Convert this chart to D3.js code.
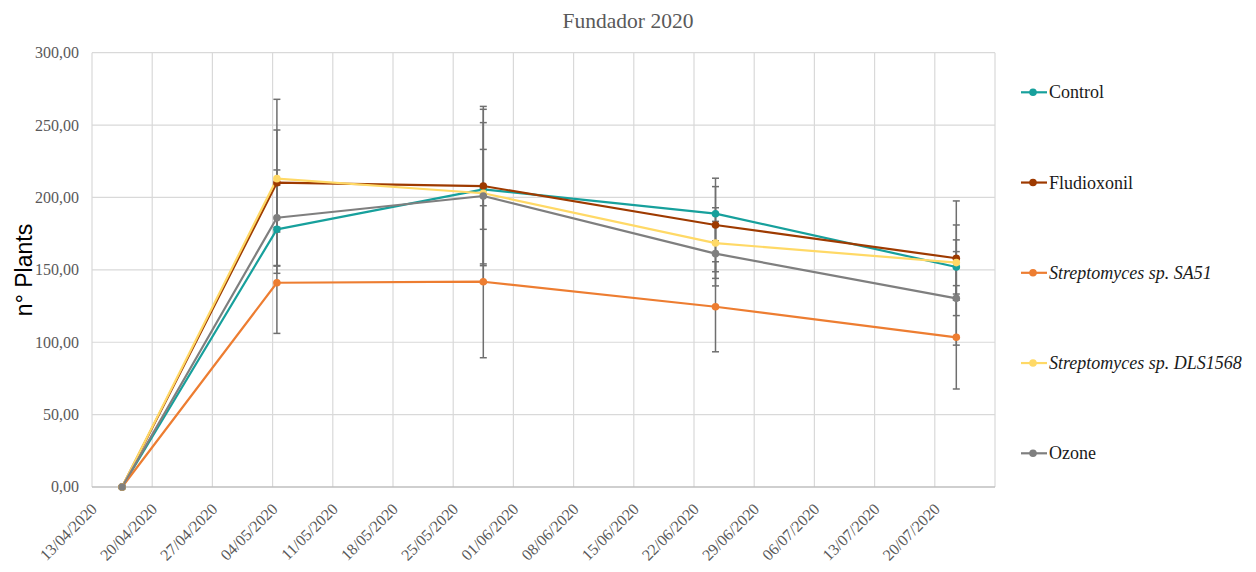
<!DOCTYPE html>
<html>
<head>
<meta charset="utf-8">
<script src="https://cdn.jsdelivr.net/npm/d3@7"></script>
<style>
  html, body { margin: 0; padding: 0; background: #ffffff; }
  svg { display: block; }
</style>
</head>
<body>
<svg id="chart" width="1256" height="572"></svg>
<script>
// ---------- data ----------
const sampleDates = ["2020-04-16", "2020-05-04", "2020-05-28", "2020-06-24", "2020-07-22"];
const seriesNames = ["Control", "Fludioxonil", "Streptomyces sp. SA51", "Streptomyces sp. DLS1568", "Ozone"];
const italicSeries = ["Streptomyces sp. SA51", "Streptomyces sp. DLS1568"];
const seriesColors = ["#17A09C", "#9E3A00", "#ED7D31", "#FFD966", "#7F7F7F"];

const controlValues   = [0, 178.0, 205.6, 188.8, 152.0];
const fludioValues    = [0, 210.2, 207.9, 181.0, 158.0];
const sa51Values      = [0, 141.1, 141.8, 124.5, 103.4];
const dls1568Values   = [0, 213.0, 202.9, 168.5, 155.0];
const ozoneValues     = [0, 186.0, 201.0, 161.2, 130.3];

const controlErr = [0, 30.4, 27.6, 18.7, 18.7];
const fludioErr  = [0, 57.6, 55.0, 32.3, 39.6];
const sa51Err    = [0, 35.0, 52.5, 31.1, 35.7];
const dls1568Err = [0, 33.6, 48.8, 24.4, 26.0];
const ozoneErr   = [0, 33.0, 59.9, 22.3, 32.3];

const yTicks = [0, 50, 100, 150, 200, 250, 300];
const xTickStart = "2020-04-13";
const xTickEnd = "2020-07-27";
const chartTitle = "Fundador 2020";
const yAxisTitle = "n° Plants";

// ---------- build ----------
const parse = d3.utcParse("%Y-%m-%d");
const fmtTick = d3.utcFormat("%d/%m/%Y");
const yFmt = v => d3.format(".2f")(v).replace(".", ",");

const allValues = [controlValues, fludioValues, sa51Values, dls1568Values, ozoneValues];
const allErr = [controlErr, fludioErr, sa51Err, dls1568Err, ozoneErr];
const series = seriesNames.map((name, i) => ({
  name, color: seriesColors[i],
  points: sampleDates.map((d, j) => ({ date: parse(d), value: allValues[i][j], err: allErr[i][j] }))
}));

const svg = d3.select("#chart");
const plotLeft = 92, plotRight = 995, plotTop = 52.7, plotBottom = 487;

const x = d3.scaleUtc().domain([parse(xTickStart), parse(xTickEnd)]).range([plotLeft, plotRight]);
const y = d3.scaleLinear().domain([0, 300]).range([plotBottom, plotTop]);
// Excel date axis: points sit in the middle of their day
const px = d => x(d3.utcHour.offset(d, 12));

const weekDates = d3.range(0, 16).map(i => d3.utcDay.offset(parse(xTickStart), i * 7));
const labelDates = weekDates.filter(d => d < parse(xTickEnd));

// gridlines
svg.append("g").selectAll("line").data(yTicks.filter(t => t > 0)).join("line")
  .attr("x1", plotLeft).attr("x2", plotRight)
  .attr("y1", d => y(d)).attr("y2", d => y(d))
  .attr("stroke", "#d9d9d9").attr("stroke-width", 1.2);
svg.append("g").selectAll("line").data(weekDates).join("line")
  .attr("x1", d => x(d)).attr("x2", d => x(d))
  .attr("y1", plotTop).attr("y2", plotBottom)
  .attr("stroke", "#d9d9d9").attr("stroke-width", 1.2);
// x axis line
svg.append("line").attr("x1", plotLeft).attr("x2", plotRight).attr("y1", y(0)).attr("y2", y(0))
  .attr("stroke", "#bfbfbf").attr("stroke-width", 1.4);

// y tick labels
svg.append("g").selectAll("text").data(yTicks).join("text")
  .attr("x", 79).attr("y", d => y(d)).attr("dy", "0.34em")
  .attr("text-anchor", "end")
  .attr("font-family", "'Liberation Serif', 'Times New Roman', serif")
  .attr("font-size", 16).attr("fill", "#595959")
  .text(d => yFmt(d));

// x tick labels
svg.append("g").selectAll("text").data(labelDates).join("text")
  .attr("transform", d => `translate(${x(d) + 6},${510}) rotate(-45)`)
  .attr("text-anchor", "end")
  .attr("font-family", "'Liberation Serif', 'Times New Roman', serif")
  .attr("font-size", 16).attr("fill", "#595959")
  .text(d => fmtTick(d));

// error bars
const eb = svg.append("g");
series.forEach(s => {
  s.points.filter(p => p.err > 0).forEach(p => {
    const cx = px(p.date);
    eb.append("line").attr("x1", cx).attr("x2", cx)
      .attr("y1", y(p.value - p.err)).attr("y2", y(p.value + p.err))
      .attr("stroke", "#6f6f6f").attr("stroke-width", 1.5);
    [p.value - p.err, p.value + p.err].forEach(v => {
      eb.append("line").attr("x1", cx - 3.5).attr("x2", cx + 3.5)
        .attr("y1", y(v)).attr("y2", y(v))
        .attr("stroke", "#6f6f6f").attr("stroke-width", 1.5);
    });
  });
});

// lines
const line = d3.line().x(d => px(d.date)).y(d => y(d.value));
series.forEach(s => {
  svg.append("path").datum(s.points)
    .attr("d", line).attr("fill", "none")
    .attr("stroke", s.color).attr("stroke-width", 2.2)
    .attr("stroke-linejoin", "round");
});
series.forEach(s => {
  svg.append("g").selectAll("circle").data(s.points).join("circle")
    .attr("cx", d => px(d.date)).attr("cy", d => y(d.value))
    .attr("r", 3.8).attr("fill", s.color);
});

// title
svg.append("text").attr("x", 628).attr("y", 28)
  .attr("text-anchor", "middle")
  .attr("font-family", "'Liberation Serif', 'Times New Roman', serif")
  .attr("font-size", 21.5).attr("fill", "#595959")
  .text(chartTitle);

// y axis title
svg.append("text").attr("transform", "translate(32,270) rotate(-90)")
  .attr("text-anchor", "middle")
  .attr("font-family", "'Liberation Sans', Arial, sans-serif")
  .attr("font-size", 23).attr("fill", "#000000")
  .text(yAxisTitle);

// legend
const lg = svg.append("g");
series.forEach((s, i) => {
  const ly = 92.3 + i * 90.25;
  lg.append("line").attr("x1", 1021).attr("x2", 1047).attr("y1", ly).attr("y2", ly)
    .attr("stroke", s.color).attr("stroke-width", 2.2);
  lg.append("circle").attr("cx", 1033).attr("cy", ly).attr("r", 3.8).attr("fill", s.color);
  lg.append("text").attr("x", 1049).attr("y", ly).attr("dy", "0.34em")
    .attr("font-family", "'Liberation Serif', 'Times New Roman', serif")
    .attr("font-size", 18).attr("fill", "#1a1a1a")
    .attr("font-style", italicSeries.includes(s.name) ? "italic" : "normal")
    .text(s.name);
});
</script>
</body>
</html>
